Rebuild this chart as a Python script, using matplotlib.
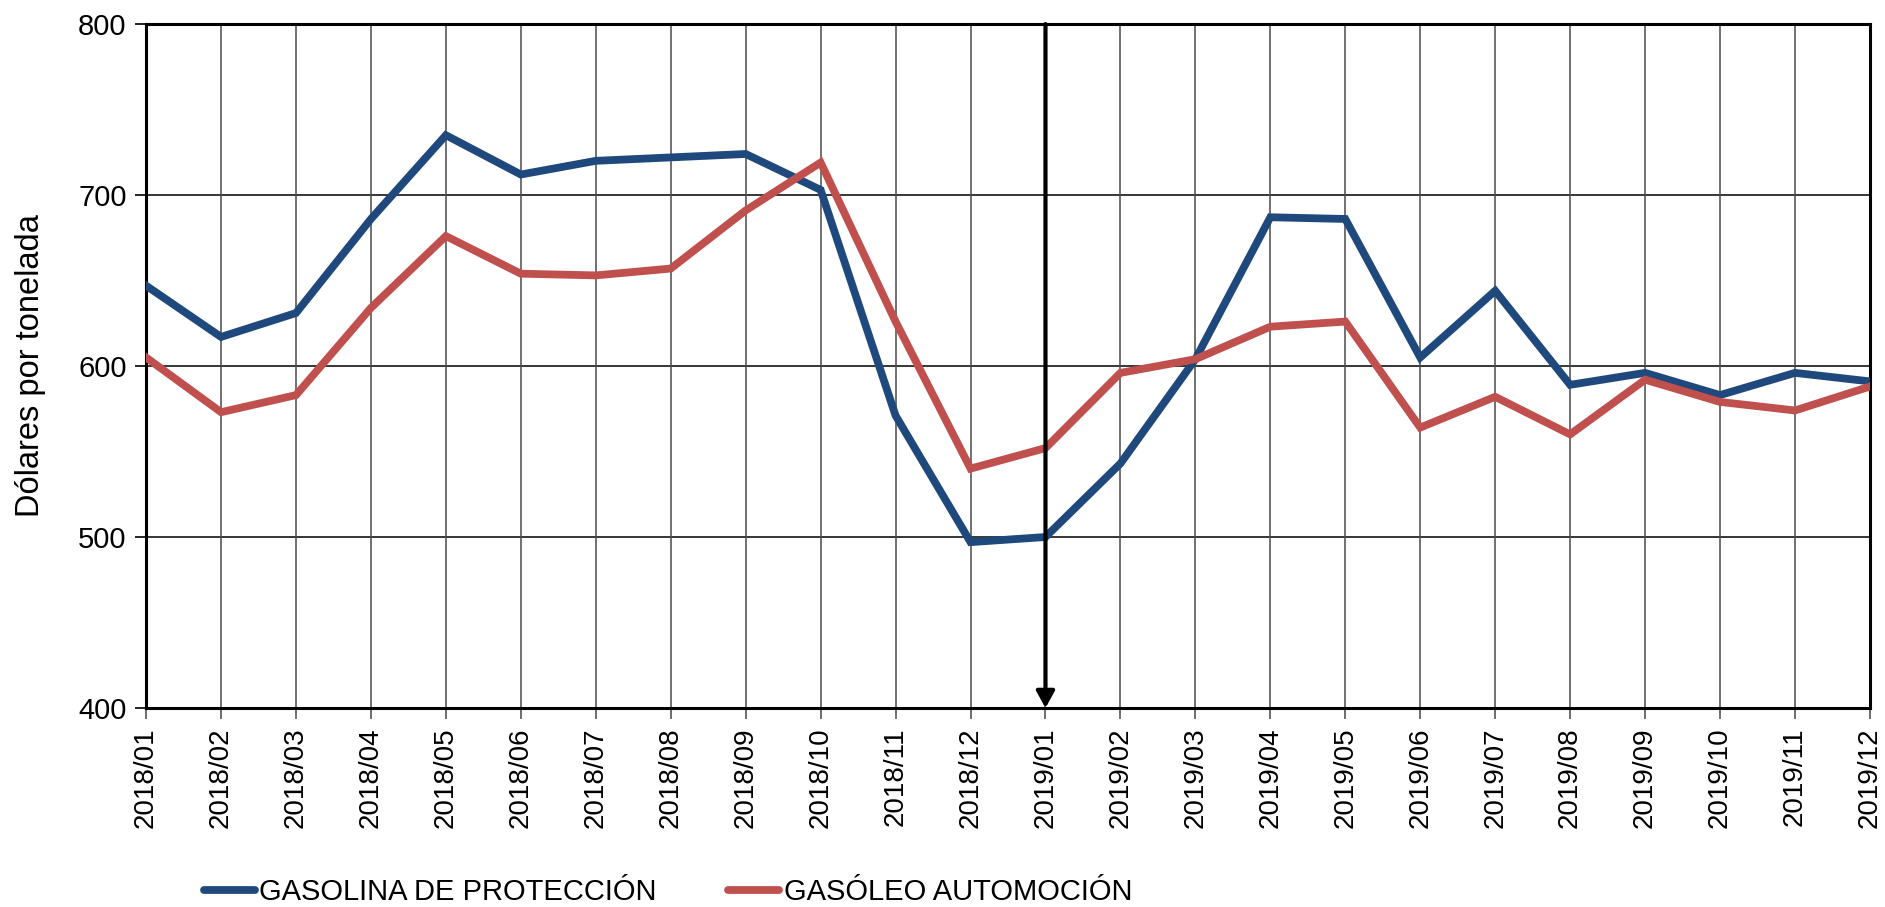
import matplotlib
matplotlib.use("Agg")
from matplotlib import pyplot as plt

plt.rcParams['font.family'] = ['Liberation Sans', 'DejaVu Sans']

meses = ["2018/01", "2018/02", "2018/03", "2018/04", "2018/05", "2018/06",
         "2018/07", "2018/08", "2018/09", "2018/10", "2018/11", "2018/12",
         "2019/01", "2019/02", "2019/03", "2019/04", "2019/05", "2019/06",
         "2019/07", "2019/08", "2019/09", "2019/10", "2019/11", "2019/12"]
gasolina = [647, 617, 631, 686, 735, 712, 720, 722, 724, 703, 571, 497,
            500, 543, 604, 687, 686, 605, 644, 589, 596, 583, 596, 591]
gasoleo = [605, 573, 583, 634, 676, 654, 653, 657, 691, 719, 626, 540,
           552, 596, 604, 623, 626, 564, 582, 560, 592, 579, 574, 588]
nombres = ["GASOLINA DE PROTECCIÓN", "GASÓLEO AUTOMOCIÓN"]
marca = "2019/01"

fig = plt.figure(figsize=(18.85, 9.07), dpi=100)
ax = fig.add_axes([0.0775, 0.2194, 0.9145, 0.7541])

x = list(range(len(meses)))
ax.plot(x, gasolina, color="#1F497D", lw=5.6, label=nombres[0], solid_joinstyle="miter", zorder=3)
ax.plot(x, gasoleo, color="#C0504D", lw=5.6, label=nombres[1], solid_joinstyle="miter", zorder=3)

ax.set_xlim(0, len(meses) - 1)
ax.set_ylim(400, 800)
ax.set_yticks([400, 500, 600, 700, 800])
ax.set_xticks(x)
ax.set_xticklabels(meses, rotation=90)

for v in [500, 600, 700]:
    ax.axhline(v, color="black", lw=1.1, zorder=1)
for i in x[1:-1]:
    ax.axvline(i, color="#4a4a4a", lw=1.1, zorder=1)

for s in ax.spines.values():
    s.set_linewidth(2.2)
    s.set_color("black")

ax.tick_params(axis="y", labelsize=21, length=8, width=1.2, direction="out", pad=6)
ax.tick_params(axis="x", labelsize=20, length=8, width=1.2, color="#555555", direction="out", pad=6)
ax.set_ylabel("Dólares por tonelada", fontsize=23.5)
ax.yaxis.set_label_coords(-0.058, 0.5)

# flecha en 2019/01
xm = meses.index(marca)
ax.annotate("", xy=(xm, 400), xytext=(xm, 800),
            arrowprops=dict(arrowstyle="-|>,head_length=1.0,head_width=0.55",
                            color="black", lw=3, shrinkA=0, shrinkB=0),
            zorder=4)

leg = fig.legend(loc="lower left", bbox_to_anchor=(0.0943, -0.028), ncol=2, frameon=False,
                 fontsize=21, handlelength=1.75, handletextpad=0.15, columnspacing=2.45)
for h in leg.legend_handles:
    h.set_solid_capstyle("round")

fig.savefig("out.png", dpi=100)
